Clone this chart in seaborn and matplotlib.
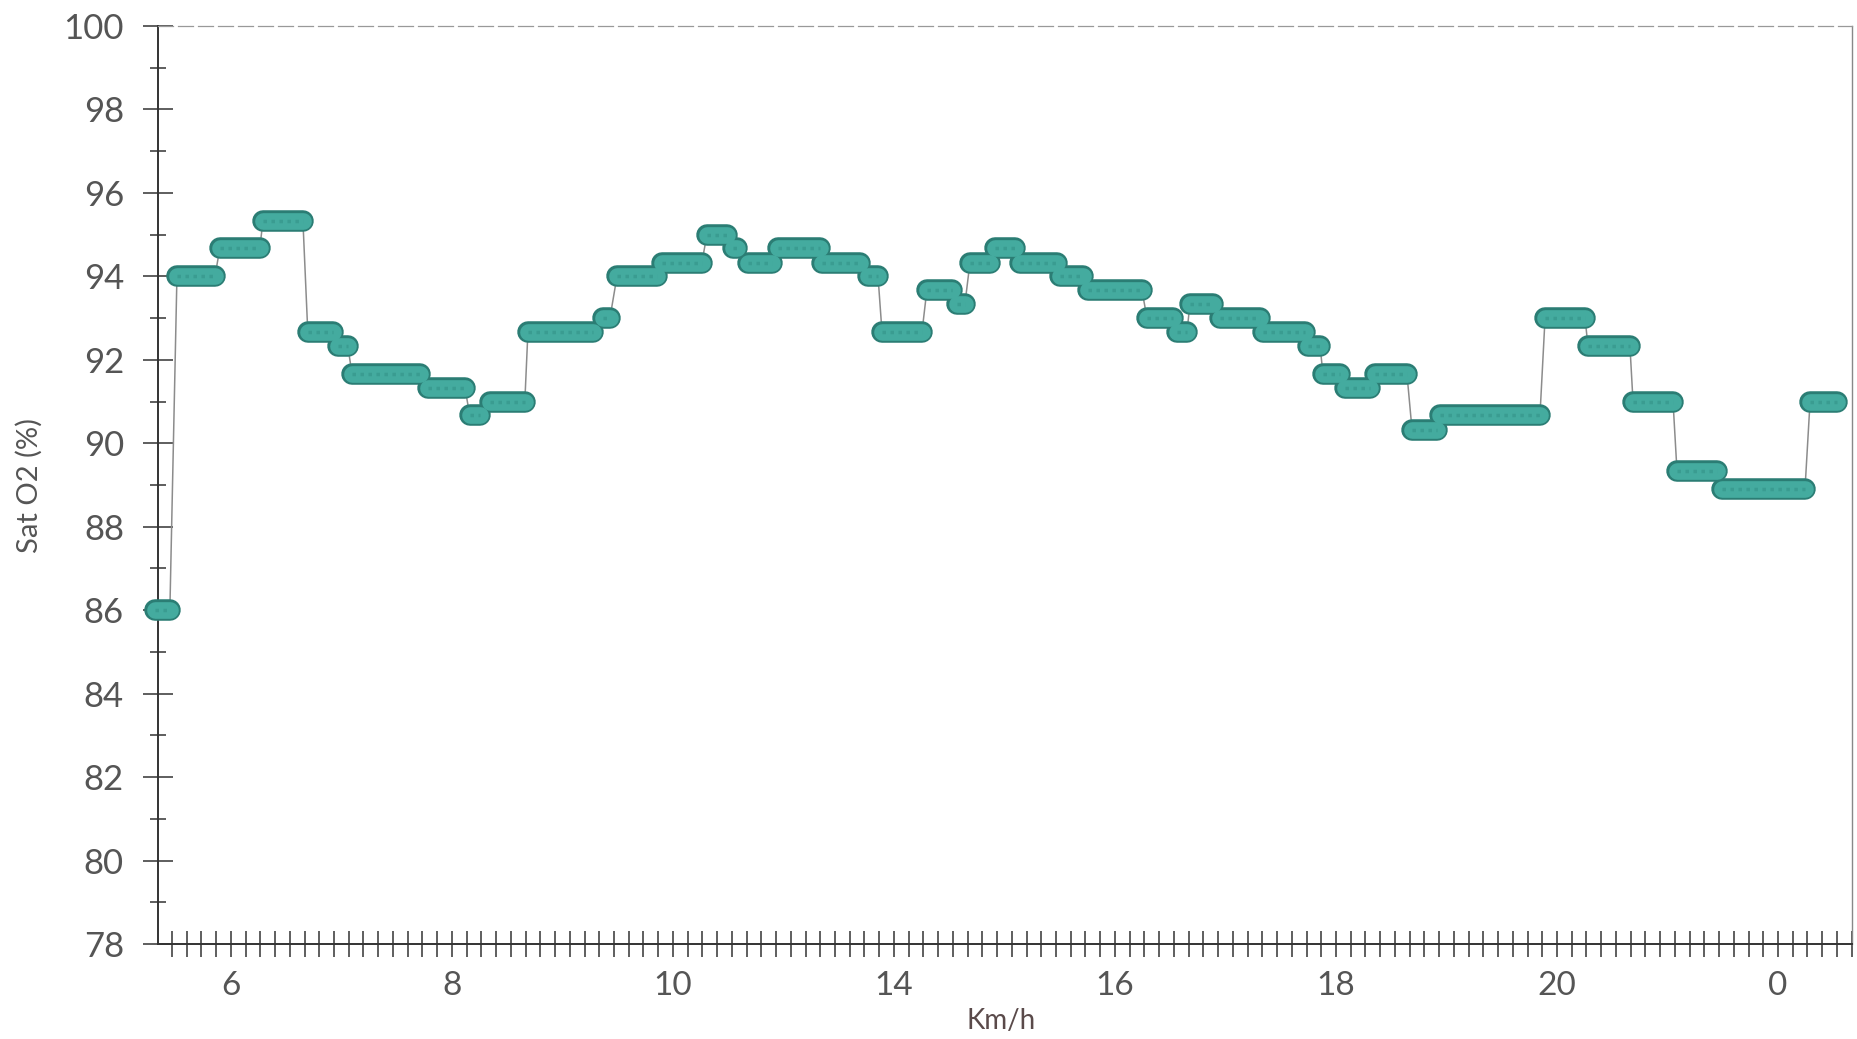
import numpy as np
import pandas as pd
import seaborn as sns
import matplotlib.pyplot as plt
from matplotlib.ticker import MultipleLocator

sns.set_style("ticks")
plt.rcParams['font.family'] = ['Lato', 'DejaVu Sans']

# x positions are in tick-spacing units (0 = "6", 1 = "8", ... 7 = "0")
seg_start = [-0.344, -0.244, -0.050, 0.145, 0.348, 0.484, 0.548, 0.891, 1.081, 1.172,
             1.344, 1.683, 1.747, 1.950, 2.154, 2.271, 2.339, 2.475, 2.674, 2.882,
             2.946, 3.149, 3.285, 3.344, 3.457, 3.570, 3.751, 3.878, 4.145, 4.281,
             4.339, 4.475, 4.670, 4.873, 4.941, 5.041, 5.176, 5.344, 5.471, 5.946,
             6.140, 6.344, 6.543, 6.747, 7.145]
seg_end = [-0.276, -0.072, 0.131, 0.326, 0.462, 0.529, 0.855, 1.059, 1.127, 1.330,
           1.638, 1.715, 1.928, 2.131, 2.244, 2.290, 2.448, 2.665, 2.846, 2.928,
           3.127, 3.262, 3.321, 3.434, 3.548, 3.738, 3.855, 4.122, 4.262, 4.326,
           4.443, 4.656, 4.860, 4.928, 5.018, 5.154, 5.321, 5.457, 5.923, 6.127,
           6.330, 6.525, 6.724, 7.122, 7.267]
sat_o2 = [86.0, 94.0, 94.67, 95.33, 92.67, 92.33, 91.67, 91.33, 90.67, 91.0,
          92.67, 93.0, 94.0, 94.33, 95.0, 94.67, 94.33, 94.67, 94.33, 94.0,
          92.67, 93.67, 93.33, 94.33, 94.67, 94.33, 94.0, 93.67, 93.0, 92.67,
          93.33, 93.0, 92.67, 92.33, 91.67, 91.33, 91.67, 90.33, 90.67, 93.0,
          92.33, 91.0, 89.33, 88.9, 91.0]
tick_labels = ["6", "8", "10", "14", "16", "18", "20", "0"]

# connector line through every plateau end
df = pd.DataFrame({
    "x": np.ravel(np.column_stack([seg_start, seg_end])),
    "y": np.repeat(sat_o2, 2),
})

fig = plt.figure(figsize=(18.58, 10.39), dpi=100)
ax = fig.add_axes([0.085, 0.0914, 0.9118, 0.8836])

sns.lineplot(data=df, x="x", y="y", sort=False, estimator=None,
             color="#8c8c8c", lw=1.1, ax=ax, zorder=2)

# plateaus drawn as rounded pills
for s, e, v in zip(seg_start, seg_end, sat_o2):
    ax.plot([s, e], [v, v], color="#2b7d74", lw=15.5, solid_capstyle="round",
            clip_on=False, zorder=3)
for s, e, v in zip(seg_start, seg_end, sat_o2):
    ax.plot([s, e], [v, v], color="#44ab9f", lw=12, solid_capstyle="round",
            clip_on=False, zorder=4)
    ax.plot([s, e], [v, v], color="#3a9c91", lw=2.5, ls=(0, (1, 1.3)),
            clip_on=False, zorder=5)

ax.set_xlim(-0.33, 7.335)
ax.set_ylim(78, 100)
ax.set_xticks(range(len(tick_labels)))
ax.set_xticklabels(tick_labels)
ax.xaxis.set_minor_locator(MultipleLocator(1 / 15))
ax.set_yticks(range(78, 101, 2))
ax.yaxis.set_minor_locator(MultipleLocator(1))

ax.tick_params(axis="x", which="both", direction="inout", length=19, width=1.1,
               color="#333333", labelsize=24, labelcolor="#555555", pad=10)
ax.tick_params(axis="y", which="major", direction="inout", length=21, width=1.1,
               color="#333333", labelsize=25, labelcolor="#555555", pad=14)
ax.tick_params(axis="y", which="minor", direction="inout", length=12, width=1.1,
               color="#333333")

ax.set_xlabel("Km/h", fontsize=20, color="#5a4a4a")
ax.set_ylabel("Sat O2 (%)", fontsize=21, color="#555555")
ax.xaxis.set_label_coords(0.498, -0.07)
ax.yaxis.set_label_coords(-0.068, 0.5)

for side in ["left", "bottom"]:
    ax.spines[side].set_color("#333333")
    ax.spines[side].set_linewidth(1.4)
ax.spines["top"].set_color("#999999")
ax.spines["top"].set_linewidth(0.9)
ax.spines["top"].set_linestyle((0, (12, 4)))
ax.spines["right"].set_color("#888888")
ax.spines["right"].set_linewidth(1)

fig.savefig("out.png", dpi=100)
